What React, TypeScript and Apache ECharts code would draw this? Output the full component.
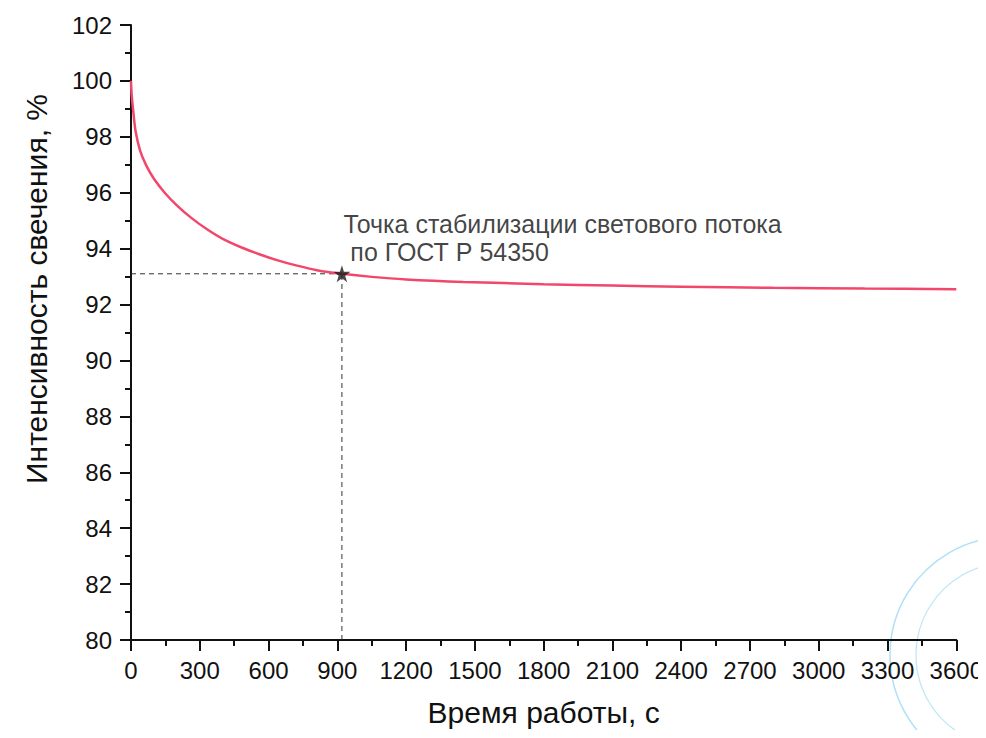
import React, { useEffect, useRef } from "react";
import * as echarts from "echarts";

const TIMES = [0, 3, 10, 20, 40, 68, 100, 147, 200, 263, 330, 400, 480, 560, 640, 720, 811, 920, 1050, 1200, 1450, 1800, 2100, 2400, 2800, 3200, 3600];
const INTENSITY = [100, 99.5, 98.9, 98.2, 97.5, 96.95, 96.5, 96.0, 95.55, 95.1, 94.7, 94.35, 94.05, 93.8, 93.58, 93.4, 93.23, 93.1, 92.99, 92.9, 92.81, 92.73, 92.68, 92.64, 92.6, 92.57, 92.55];
const STAB_T = 920;
const STAB_V = 93.1;
const ANNOTATION = "Точка стабилизации светового потока\n по ГОСТ Р 54350";
const X_TITLE = "Время работы, с";
const Y_TITLE = "Интенсивность свечения, %";

const STAR =
  "path://M50,0 L61.8,36.2 L100,36.2 L69.1,58.8 L80.9,95.1 L50,72.7 L19.1,95.1 L30.9,58.8 L0,36.2 L38.2,36.2 Z";

export default function App() {
  const ref = useRef<HTMLDivElement>(null);
  useEffect(() => {
    if (!ref.current) return;
    const chart = echarts.init(ref.current, null, { renderer: "svg" });
    const font = "Arial";
    const textColor = "#111111";
    chart.setOption({
      animation: false,
      backgroundColor: "#ffffff",
      textStyle: { fontFamily: font },
      grid: { left: 131, right: 26, top: 25, bottom: 98, containLabel: false },
      xAxis: {
        type: "value",
        min: 0,
        max: 3600,
        interval: 300,
        name: X_TITLE,
        nameLocation: "middle",
        nameGap: 57,
        nameTextStyle: { fontSize: 30, color: textColor, fontFamily: font },
        axisLine: { show: true, onZero: false, lineStyle: { color: "#111", width: 2 } },
        axisTick: { show: true, inside: false, length: 11, lineStyle: { color: "#111", width: 2 } },
        minorTick: { show: true, splitNumber: 2, length: 6, lineStyle: { color: "#111", width: 2 } },
        axisLabel: {
          fontSize: 24,
          color: textColor,
          margin: 18,
          fontFamily: font,
          showMaxLabel: true,
          formatter: (v: number) => String(v),
        },
        splitLine: { show: false },
      },
      yAxis: {
        type: "value",
        min: 80,
        max: 102,
        interval: 2,
        axisLine: { show: true, onZero: false, lineStyle: { color: "#111", width: 2 } },
        axisTick: { show: true, inside: false, length: 11, lineStyle: { color: "#111", width: 2 } },
        minorTick: { show: true, splitNumber: 2, length: 6, lineStyle: { color: "#111", width: 2 } },
        axisLabel: { fontSize: 24, color: textColor, margin: 19, fontFamily: font },
        splitLine: { show: false },
      },
      graphic: [
        {
          type: "text",
          x: 36,
          y: 289,
          rotation: Math.PI / 2,
          silent: true,
          style: {
            text: Y_TITLE,
            fontSize: 30,
            fontFamily: font,
            fill: textColor,
            align: "center",
            verticalAlign: "middle",
          },
        },
        {
          type: "circle",
          shape: { cx: 1008, cy: 655, r: 118 },
          style: { fill: "none", stroke: "#6cc6ee", lineWidth: 1.5, opacity: 0.55 },
          silent: true,
          z: 0,
        },
        {
          type: "circle",
          shape: { cx: 1008, cy: 655, r: 92 },
          style: { fill: "none", stroke: "#6cc6ee", lineWidth: 1.2, opacity: 0.45 },
          silent: true,
          z: 0,
        },
      ],
      series: [
        {
          type: "line",
          data: [
            [0, STAB_V],
            [STAB_T, STAB_V],
          ],
          symbol: "none",
          lineStyle: { color: "#333", width: 1, type: [5, 4] },
          silent: true,
          z: 1,
        },
        {
          type: "line",
          data: [
            [STAB_T, 80],
            [STAB_T, STAB_V],
          ],
          symbol: "none",
          lineStyle: { color: "#333", width: 1, type: [5, 4] },
          silent: true,
          z: 1,
        },
        {
          type: "line",
          data: TIMES.map((t, i) => [t, INTENSITY[i]]),
          smooth: 0.3,
          symbol: "none",
          lineStyle: { color: "#f2476b", width: 2.5 },
          z: 2,
        },
        {
          type: "scatter",
          data: [[STAB_T, STAB_V]],
          symbol: STAR,
          symbolSize: 17,
          itemStyle: { color: "#1a1a1a" },
          z: 3,
          label: {
            show: true,
            position: [10, -55],
            align: "left",
            verticalAlign: "top",
            formatter: ANNOTATION,
            fontSize: 25,
            lineHeight: 28,
            color: textColor,
            fontFamily: font,
          },
        },
      ],
    });
    return () => chart.dispose();
  }, []);
  return <div ref={ref} style={{ width: 986, height: 738, margin: -8 }} />;
}
